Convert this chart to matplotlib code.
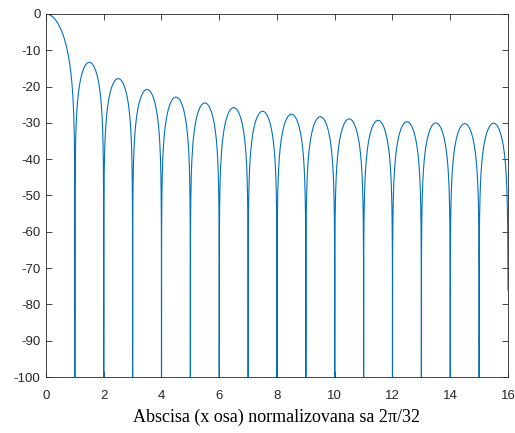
import matplotlib
matplotlib.use('Agg')
import matplotlib.pyplot as plt
import numpy as np

plt.rcParams['axes.unicode_minus'] = False

# peak level of each side lobe (dB), lobe k lies between k and k+1
lobe_start = [1, 2, 3, 4, 5, 6, 7, 8, 9, 10, 11, 12, 13, 14, 15]
lobe_peak = [-13.3, -17.8, -20.8, -22.9, -24.5, -25.8, -26.8, -27.6,
             -28.3, -28.9, -29.3, -29.7, -30.0, -30.2, -30.1]
end_x = 16
end_y = -76
xticks = [0, 2, 4, 6, 8, 10, 12, 14, 16]
yticks = [0, -10, -20, -30, -40, -50, -60, -70, -80, -90, -100]

# main lobe
xs = [np.linspace(0, 1, 400)]
main = np.abs(np.sinc(xs[0]))
ys = [20*np.log10(np.maximum(main, 1e-15))]
for k, p in zip(lobe_start, lobe_peak):
    t = np.linspace(k, k+1, 400)[1:]
    if k == lobe_start[-1]:
        t = t[:-1]
    s = np.abs(np.sin(np.pi*t))
    xs.append(t)
    ys.append(p + 20*np.log10(np.maximum(s, 1e-15)))
xs.append(np.array([end_x]))
ys.append(np.array([end_y]))
x = np.concatenate(xs)
y = np.maximum(np.concatenate(ys), -300)

fig = plt.figure(figsize=(5.15, 4.33), dpi=100)
ax = fig.add_axes([0.0893, 0.1293, 0.8971, 0.8384])
ax.plot(x, y, color='#0072BD', linewidth=0.8)
ax.set_xlim(0, 16)
ax.set_ylim(-100, 0)
ax.set_xticks(xticks)
ax.set_yticks(yticks)
ax.tick_params(direction='in', top=True, right=True, length=4, width=0.6,
               colors='#262626', labelsize=9.5)
ax.tick_params(axis='x', pad=9)
ax.tick_params(axis='y', pad=4)
for lab in ax.get_xticklabels() + ax.get_yticklabels():
    lab.set_family('Liberation Sans')
for sp in ax.spines.values():
    sp.set_color('#262626')
    sp.set_linewidth(0.6)
ax.set_xlabel('Abscisa (x osa) normalizovana sa 2\u03c0/32', family='Liberation Serif',
              fontsize=13, color='black', labelpad=5)
fig.savefig('out.png', dpi=100)
